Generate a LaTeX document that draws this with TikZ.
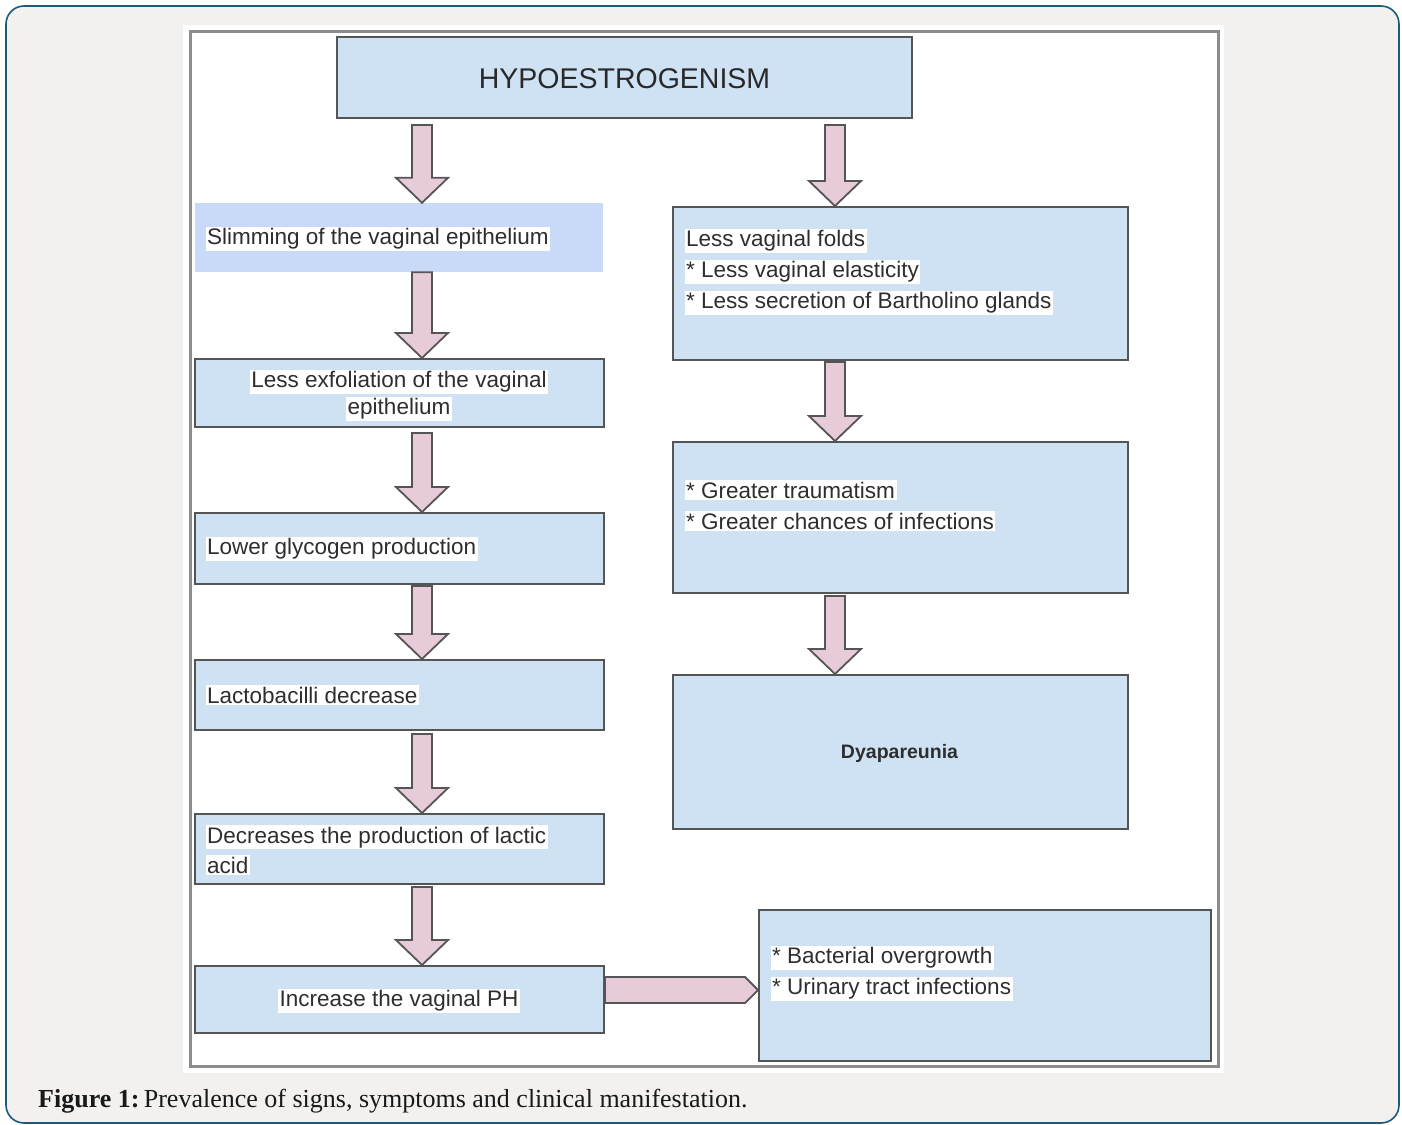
\documentclass[tikz,border=0pt]{standalone}
\usepackage{fontspec}
\setmainfont{Liberation Sans}
\newfontfamily\capfont{Liberation Serif}
\usetikzlibrary{calc}
\definecolor{boxblue}{HTML}{CFE2F3}
\definecolor{slimblue}{HTML}{C9DAF8}
\definecolor{arrowpink}{HTML}{E8CBD9}
\definecolor{edgegray}{HTML}{555555}
\definecolor{framebg}{HTML}{F2F1EF}
\definecolor{frameline}{HTML}{1F5A78}
\definecolor{txtgray}{HTML}{2E2E2E}
\definecolor{panelline}{HTML}{8C8C8C}
\newcommand\hlt[1]{{\setlength{\fboxsep}{1.5pt}\colorbox{white}{#1}}}
\newcommand\vblockarrow[4]{\draw[barrow] let \p1=(#2.south), \p2=(#3.north) in
  (#1pt-10pt,\y1-#4pt) -- (#1pt+10pt,\y1-#4pt) -- (#1pt+10pt,\y2+25pt) -- (#1pt+26pt,\y2+25pt)
  -- (#1pt,\y2) -- (#1pt-26pt,\y2+25pt) -- (#1pt-10pt,\y2+25pt) -- cycle;}
\tikzset{
  box/.style={rectangle, draw=edgegray, line width=2pt, fill=boxblue, inner sep=0},
  slimbox/.style={rectangle, fill=slimblue, inner sep=0},
  barrow/.style={draw=edgegray, line width=1.8pt, fill=arrowpink, line join=miter},
  txt/.style={inner sep=0, text=txtgray, font=\fontsize{22.5}{31}\selectfont},
}
\begin{document}
\begin{tikzpicture}[x=1pt,y=-1pt]
\useasboundingbox (0,0) rectangle (1402,1124);
% outer frame
\draw[frameline, line width=1.6pt, fill=framebg, rounded corners=18pt] (6,6) rectangle (1399,1123);
% white panel
\fill[white] (183,25) rectangle (1224,1073);
\draw[panelline, line width=3pt] (190,32) rectangle (1218,1066);

% boxes
\node[box, minimum width=575, minimum height=81] (title) at (624.5,77.5) {};
\node[slimbox, minimum width=408, minimum height=69] (slim) at (399,237.5) {};
\node[box, minimum width=409, minimum height=68] (exf) at (399.5,393) {};
\node[box, minimum width=409, minimum height=71] (gly) at (399.5,548.5) {};
\node[box, minimum width=409, minimum height=70] (lac) at (399.5,695) {};
\node[box, minimum width=409, minimum height=70] (dec) at (399.5,849) {};
\node[box, minimum width=409, minimum height=67] (inc) at (399.5,999.5) {};
\node[box, minimum width=455, minimum height=153] (folds) at (900.5,283.5) {};
\node[box, minimum width=455, minimum height=151] (trauma) at (900.5,517.5) {};
\node[box, minimum width=455, minimum height=154] (dysp) at (900.5,752) {};
\node[box, minimum width=452, minimum height=151] (bact) at (985,985.5) {};

% texts
\node[txt, text=txtgray!90!black, font=\fontsize{28.5}{34}\selectfont] (ttitle) at (624.5,79) {HYPOESTROGENISM};
\node[txt, anchor=west] (tslim) at (205.5,239) {\hlt{Slimming of the vaginal epithelium}};
\node[txt, align=center, font=\fontsize{22.5}{27}\selectfont] (texf) at (399,395.5) {\hlt{Less exfoliation of the vaginal}\\\hlt{epithelium}};
\node[txt, anchor=west] (tgly) at (205.5,549) {\hlt{Lower glycogen production}};
\node[txt, anchor=west] (tlac) at (205.5,695) {\hlt{Lactobacilli decrease}};
\node[txt, anchor=west, align=left, font=\fontsize{22.5}{30}\selectfont] (tdec) at (205.5,850) {\hlt{Decreases the production of lactic}\\\hlt{acid}};
\node[txt] (tinc) at (399,1001) {\hlt{Increase the vaginal PH}};
\node[txt, anchor=west, align=left] (tfolds) at (684.5,272) {\hlt{Less vaginal folds}\\\hlt{* Less vaginal elasticity}\\\hlt{* Less secretion of Bartholino glands}};
\node[txt, anchor=west, align=left] (ttrauma) at (684.5,505.5) {\hlt{* Greater traumatism}\\\hlt{* Greater chances of infections}};
\node[txt, font=\fontsize{19.5}{24}\selectfont\bfseries] (tdysp) at (899.5,753) {Dyapareunia};
\node[txt, anchor=west, align=left] (tbact) at (770.5,973.5) {\hlt{* Bacterial overgrowth}\\\hlt{* Urinary tract infections}};

% vertical block arrows
\vblockarrow{422}{title}{slim}{6}
\vblockarrow{422}{slim}{exf}{0}
\vblockarrow{422}{exf}{gly}{5}
\vblockarrow{422}{gly}{lac}{1}
\vblockarrow{422}{lac}{dec}{3}
\vblockarrow{422}{dec}{inc}{2}
\vblockarrow{835}{title}{folds}{6}
\vblockarrow{835}{folds}{trauma}{1}
\vblockarrow{835}{trauma}{dysp}{2}
% horizontal block arrow
\draw[barrow] let \p1=(inc.east), \p2=(bact.west) in
  (\x1,\y1+22.5pt) -- (\x2-13pt,\y1+22.5pt) -- (\x2,\y1+9.5pt) -- (\x2-13pt,\y1-3.5pt) -- (\x1,\y1-3.5pt) -- cycle;

% caption
\node[inner sep=0, anchor=west, text=black!90, font=\capfont\fontsize{26}{30}\selectfont] (cap) at (38,1101) {\textbf{Figure 1:}\,Prevalence of signs, symptoms and clinical manifestation.};
\end{tikzpicture}
\end{document}
